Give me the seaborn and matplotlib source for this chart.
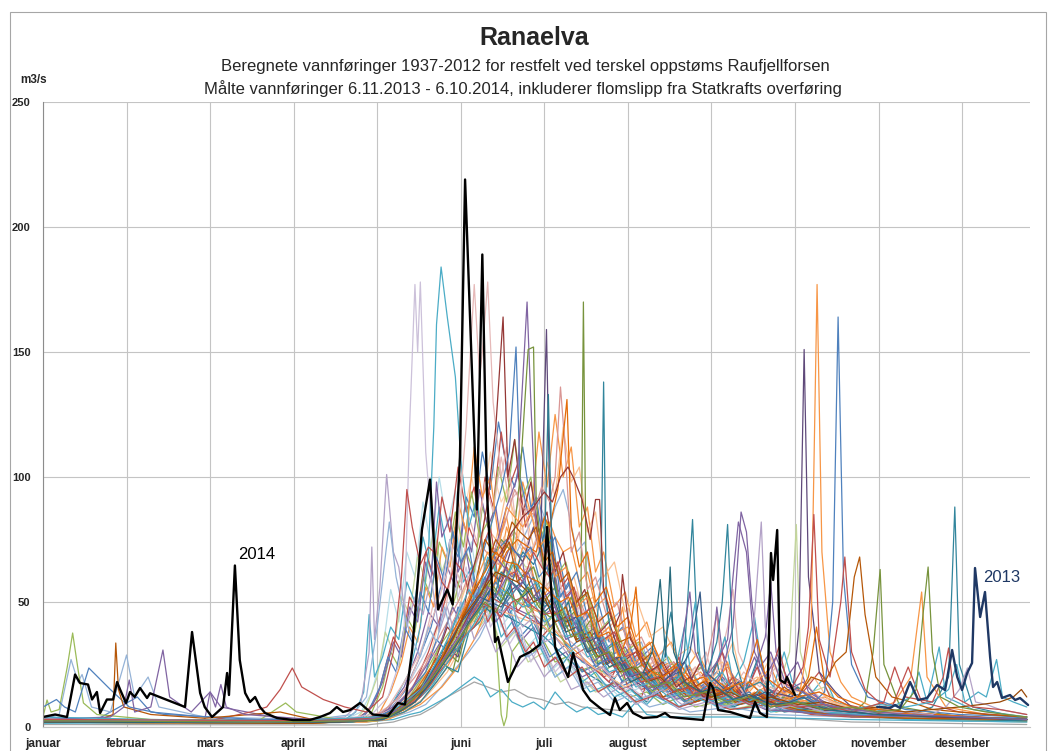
import matplotlib
matplotlib.use("Agg")
import matplotlib.pyplot as plt
from matplotlib.patches import Rectangle
import seaborn as sns

sns.set_style("white")
plt.rcParams['font.family'] = ['Liberation Sans Narrow', 'Liberation Sans', 'DejaVu Sans']

# ---------------- data ----------------
MONTHS = ["januar", "februar", "mars", "april", "mai", "juni", "juli",
          "august", "september", "oktober", "november", "desember"]
MONTH_TICKS = [0, 31, 62, 93, 124, 155, 186, 217, 248, 279, 310, 341]
Y_TICKS = [0, 50, 100, 150, 200, 250]

# measured 2014 (6.11.2013 - 6.10.2014), day of year -> m3/s
d2014 = [0, 4.5, 8.9, 11.9, 13.7, 16.7, 18.2, 20, 21.2, 23.7, 26, 27.5, 28.6, 30.8, 32.3,
         34, 36, 38.6, 39.7, 52.7, 55.3, 58.3, 60, 62.7, 66.8, 68.3, 69, 71.2, 73, 75,
         76.8, 78.7, 80.5, 82.4, 86.8, 92.8, 99, 102.8, 106.5, 109, 111.3, 114, 117.6, 122.4, 128,
         131.7, 134.3, 137, 140.6, 143.6, 146.6, 150, 152, 154.7, 156.6, 161, 163, 164.7, 167.7, 168.8,
         172.5, 177, 180.7, 184.4, 187, 190, 194.8, 196.7, 200.4, 203, 206.7, 210.4, 212.2, 214, 216.7,
         218.9, 222.6, 227.8, 230.8, 232.7, 236.4, 244.9, 247.5, 248.6, 250.5, 255, 258.6, 262.3, 264.2, 266,
         268.6, 270.1, 270.9, 272.4, 273.5, 275.3, 276, 279]
v2014 = [4, 5, 4, 21, 17.6, 17, 11, 14, 5.6, 11, 11, 18, 15, 9.6, 14,
         12, 15.6, 11.6, 13.5, 8, 38, 13.6, 8, 4, 8, 21.6, 12.8, 64.6, 26.8, 13.6,
         10, 12, 8, 5.6, 3.6, 2.8, 2.8, 4, 5.6, 8, 6, 6.8, 9.6, 5, 4.4,
         9.6, 9, 31, 79, 99, 47, 55, 49, 108, 219, 87, 189, 94, 34, 36,
         18, 28, 30, 33, 80, 32, 20, 29.6, 14.8, 10.8, 7.6, 4.8, 11.6, 6.8, 9.6,
         5.6, 3.6, 4, 5.6, 4, 3.6, 2.8, 17.6, 15.6, 6.8, 6, 4.8, 3.6, 10, 5.6,
         4, 69.6, 58.8, 78.8, 18.8, 17.6, 20, 12.8]

d2013 = [309.5, 310.6, 314.3, 316.1, 318, 321.7, 324.7, 328, 331.7, 334.7, 337.3, 339.2, 341,
         342.9, 344.7, 345.8, 347.7, 349.5, 351.4, 352.5, 354, 355.8, 358.8, 360.7, 362.5, 365.5]
v2013 = [8, 8, 7.6, 8.8, 7.6, 18, 10.8, 11.6, 16.8, 14.8, 30.8, 20, 14.8,
         21.6, 25.6, 63.6, 44, 54, 28, 16, 18, 11.6, 12.8, 10.8, 11.6, 8.8]

# computed series 1937-2012 (selection), (day, m3/s)
s01 = [(0,3),(30,2.5),(60,2),(90,2),(110,3),(122,5),(128,12),(132,25),(134,40),(136,120),(138,177),(139,150),(140,178),(142,110),(145,70),(148,55),(151,75),(154,52),(157,64),(160,45),(163,58),(166,40),(170,48),(173,33),(177,40),(181,26),(185,34),(190,22),(195,28),(200,16),(206,20),(212,12),(218,16),(225,10),(232,22),(236,11),(245,8),(252,18),(258,9),(266,14),(275,7),(290,5),(320,3.5),(365,2.5)]
s02 = [(0,2),(40,2),(80,1.5),(110,2),(124,4),(130,10),(136,22),(140,40),(143,70),(145,120),(146,161),(147.7,184),(150,164),(153,140),(155,107),(158,80),(161,92),(164,62),(167,70),(170,50),(173,58),(176,40),(180,46),(184,32),(188,38),(192,24),(196,30),(200,18),(205,22),(212,12),(218,15),(224,9),(230,16),(236,8),(244,12),(252,7),(262,11),(270,6),(285,8),(300,5),(320,3),(340,2.5),(365,2)]
s03 = [(0,3),(50,2.5),(100,2),(120,3),(128,8),(134,18),(140,30),(145,45),(150,62),(154,80),(157,120),(160,177),(162,140),(163,150),(165,178),(167,130),(170,100),(172,112),(175,85),(178,95),(181,70),(184,78),(187,55),(191,62),(195,42),(199,48),(203,32),(208,36),(213,24),(218,28),(224,18),(230,22),(236,14),(242,24),(248,12),(256,18),(264,10),(272,14),(282,8),(300,5),(330,4),(365,3)]
s04 = [(0,2.5),(40,2),(90,1.5),(120,2.5),(132,6),(140,15),(146,28),(150,40),(154,35),(158,58),(162,72),(165,90),(168,120),(170.7,164),(172.5,100),(175,115),(178,85),(181,98),(184,78),(187,86),(190,62),(193,70),(197,48),(201,55),(205,36),(210,42),(215,26),(220,30),(226,18),(232,22),(238,14),(244,26),(248,12),(256,16),(262,10),(270,13),(280,8),(295,6),(320,4),(365,3)]
s05 = [(0,4),(20,3),(35,12),(40,6),(70,3),(100,2.5),(122,3),(130,7),(136,14),(142,22),(146,35),(150,30),(154,48),(158,42),(162,65),(166,80),(170,95),(173,110),(175.5,152),(177,100),(180,85),(183,92),(186,70),(189,76),(192,52),(195,58),(199,40),(203,45),(207,30),(212,34),(217,22),(222,26),(228,16),(235,20),(241,12),(248,18),(254,10),(262,14),(270,8),(280,10),(300,5),(330,4),(365,3.5)]
s06 = [(0,3),(30,2),(60,3),(62,14),(66,8),(90,3),(120,3),(130,8),(136,14),(142,24),(148,35),(152,48),(156,40),(160,58),(164,52),(168,72),(172,88),(176,100),(179.6,170),(181,130),(183,80),(186,62),(189,68),(192,48),(196,54),(200,36),(205,40),(210,28),(216,32),(222,20),(228,24),(234,14),(240,18),(246,12),(252,22),(256,40),(259,86),(261,78),(263,50),(266,24),(270,30),(275,14),(282,18),(290,9),(300,6),(330,4),(365,3)]
s07 = [(0,2),(50,2),(100,2),(125,3),(132,6),(138,10),(144,18),(148,26),(152,22),(156,40),(160,48),(164,55),(167,68),(170,75),(174,70),(177,100),(180,151),(182,152),(183,90),(186,60),(189,66),(192,45),(196,52),(200,38),(204,44),(208,30),(213,34),(218,22),(224,26),(230,16),(236,20),(242,12),(250,16),(258,10),(266,14),(274,8),(285,10),(300,4),(365,2.5)]
s08 = [(0,2),(60,1.8),(110,2),(126,4),(134,9),(140,14),(145,22),(150,32),(154,28),(158,46),(162,52),(166,62),(170,58),(174,72),(178,66),(182,80),(184.5,70),(186.8,159),(188,90),(190,55),(194,44),(197,50),(201,34),(205,38),(209,25),(214,28),(220,18),(226,14),(232,20),(238,26),(242,16),(248,12),(256,18),(262,10),(270,14),(278,12),(280.5,40),(282.4,151),(284,60),(288,22),(294,14),(300,8),(330,5),(365,3)]
s09 = [(0,3),(40,2.5),(100,2),(125,3),(134,7),(140,12),(146,22),(150,30),(154,26),(158,42),(162,48),(166,58),(170,52),(174,66),(178,60),(182,64),(186,50),(190,56),(194,42),(197,46),(199.5,40),(200.5,170),(201.5,60),(204,35),(208,30),(212,24),(216,28),(222,18),(228,22),(234,14),(240,18),(248,10),(256,14),(265,8),(275,12),(290,6),(300,5),(305,10),(308,30),(310.6,63),(312,25),(318,8),(340,4),(365,3)]
s10 = [(0,2),(50,1.5),(110,1.8),(126,3),(134,6),(140,10),(146,18),(150,24),(154,22),(158,38),(162,42),(166,50),(170,46),(174,58),(178,54),(182,60),(186,48),(190,52),(194,40),(198,42),(202,30),(205,36),(207,60),(208,138),(209,50),(212,28),(216,24),(220,18),(225,22),(230,14),(235,18),(238,30),(241,83),(243,30),(246,20),(250,34),(252,50),(254,81),(256,30),(260,15),(266,18),(275,10),(285,12),(295,6),(310,5),(320,4),(330,8),(336,20),(338.3,88),(340,25),(345,8),(365,3)]
s11 = [(0,3),(30,2.5),(80,2),(118,3),(126,6),(132,12),(138,20),(144,30),(148,26),(152,42),(156,50),(160,46),(164,65),(168,72),(171,80),(175,95),(178,88),(182,85),(185,96),(188,90),(190,100),(192,136),(193.5,115),(196,70),(199,78),(202,55),(205,60),(209,45),(213,50),(217,32),(222,36),(228,22),(234,26),(240,15),(248,20),(256,10),(265,14),(272,8),(282,12),(295,6),(310,4),(365,3)]
s12 = [(0,2.5),(40,2),(100,1.5),(124,3),(132,8),(138,14),(144,24),(148,30),(152,28),(156,44),(160,50),(164,46),(168,60),(172,70),(176,75),(180,72),(183,70),(186,84),(188,80),(191,95),(194.4,131),(196,80),(199,64),(202,70),(205,50),(209,56),(213,40),(217,44),(221,30),(226,34),(231,22),(236,26),(242,16),(248,20),(256,14),(262,18),(270,10),(280,12),(284,20),(287,40),(290,18),(295,12),(310,6),(340,4),(365,3)]
s13 = [(0,2),(60,1.5),(115,2),(126,4),(132,8),(138,14),(142,18),(146,26),(150,34),(154,30),(158,44),(162,50),(166,46),(170,62),(174,58),(178,70),(182,65),(185,72),(186.3,80),(187.5,133),(189,60),(192,45),(195,50),(198,35),(202,38),(206,25),(210,28),(215,18),(220,22),(226,12),(232,16),(240,9),(248,14),(256,8),(266,12),(275,6),(290,8),(300,4),(365,2.5)]
s14 = [(0,2.5),(40,2),(90,2),(112,4),(118,10),(121,30),(122,72),(123,35),(125,56),(127.5,101),(130,70),(132,64),(135,40),(138,52),(141,45),(144,60),(147,38),(150,48),(153,36),(156,50),(160,35),(164,42),(168,30),(172,36),(176,24),(181,30),(186,20),(191,26),(196,15),(202,18),(208,12),(214,16),(220,9),(228,14),(236,7),(246,10),(254,8),(260,14),(263,30),(266.5,82),(268,40),(272,12),(280,9),(290,6),(320,4),(365,3)]
s15 = [(0,3),(6,5),(10.4,27),(13,18),(14.5,21),(18,8),(25,6),(31,28.8),(34,12),(39,20),(43,8),(60,4),(100,3),(115,5),(120,12),(124,40),(128.5,82),(131,60),(134,45),(137,35),(140,28),(143,40),(146,34),(149,48),(152,35),(155,50),(158,44),(161,55),(164,42),(168,48),(172,35),(176,40),(180,28),(185,32),(190,20),(195,24),(200,15),(206,18),(212,10),(218,13),(225,8),(232,10),(240,6),(255,8),(270,5),(300,4),(365,3)]
s16 = [(0,2.5),(60,2),(77,6),(83,8),(88,15),(92.5,23.6),(96,16),(104,11),(112,8),(120,6),(126,12),(130,30),(133,60),(135,95),(137,80),(140,65),(143,72),(145,70),(148,58),(150,55),(153,66),(156,62),(159,50),(162,54),(165,42),(168,48),(172,36),(175,40),(179,30),(182,34),(186,24),(190,28),(195,20),(200,24),(206,14),(212,18),(220,10),(228,13),(236,8),(245,11),(255,7),(270,9),(285,5),(300,4),(365,3)]
s17 = [(0,4),(1.5,10.8),(3,6),(6,7),(9,24),(11,37.6),(13,23),(15,9.6),(20,5),(40,3),(80,2.5),(90,9.6),(94,6),(110,3),(124,4),(130,6),(136,10),(140,14),(144,22),(148,28),(152,34),(156,42),(160,48),(164,58),(168,54),(172,50),(176,56),(180,45),(184,50),(188,38),(191,44),(194,48),(198,36),(202,40),(206,26),(211,30),(216,18),(221,22),(226,14),(232,18),(238,10),(246,13),(254,9),(262,12),(270,7),(290,5),(320,4),(365,3)]
s18 = [(0,8),(5,11),(8,8),(12,6),(17,23.6),(25,15),(28,12),(32,8),(45,5),(80,3),(110,3),(124,4),(132,8),(138,12),(142,16),(146,22),(150,32),(154,40),(158,48),(162,55),(165,62),(168,70),(172,75),(175,70),(178,68),(181,72),(184,60),(187,64),(190,50),(193,54),(196,40),(200,44),(204,30),(208,34),(212,24),(216,26),(220,18),(226,20),(232,14),(238,16),(244,11),(250,13),(256,9),(264,11),(270,7),(296,5),(330,4),(365,3.5)]
s19 = [(0,2),(20,2.5),(26,5),(27,33.6),(28,15),(30,8),(40,5),(60,3.5),(88,6),(100,3),(120,3),(128,5),(134,9),(140,16),(144,20),(148,28),(152,35),(156,44),(160,55),(164,75),(167,70),(170,68),(173,74),(176,58),(179,62),(182,52),(185,56),(190,45),(194,48),(198,35),(203,38),(208,25),(213,28),(218,18),(224,22),(230,12),(236,15),(242,10),(248,12),(252,14),(258,9),(266,11),(280,7),(292,5),(320,3.5),(365,3)]
s20 = [(0,3),(25,4),(30,8),(32,18.8),(34,6),(40,8),(44.5,30.8),(47,12),(55,6),(62,14),(64,8),(66,17),(68,8),(75,5),(100,3),(120,3.5),(128,5),(134,8),(138,10),(143,18),(148,25),(152,32),(156,40),(159,46),(162,55),(165,60),(168,68),(171,64),(174,60),(178,66),(180,50),(184,54),(186,45),(190,48),(194,35),(199,38),(204,26),(209,30),(214,20),(220,24),(224,15),(230,18),(235,11),(242,14),(250,9),(258,12),(268,7),(290,5),(330,4),(365,3)]
s21 = [(0,2),(50,1.5),(110,2),(124,3),(130,6),(136,10),(140,14),(145,22),(150,30),(154,42),(158,52),(162,62),(165,70),(168,66),(172,88),(175,84),(178,80),(181,86),(184,72),(187,76),(190,60),(194,64),(198,48),(202,52),(206,36),(210,40),(214,26),(218,30),(222,18),(226,22),(230,14),(236,18),(240,12),(246,20),(250,16),(254,26),(258,10),(264,14),(270,8),(276,12),(280,9),(285,40),(287.2,177),(289,70),(292,30),(296,18),(300,12),(310,7),(316,10),(322,20),(326,54),(328,20),(335,8),(350,5),(365,4)]
s22 = [(0,3),(60,2.5),(110,2),(126,4),(132,7),(138,12),(142,16),(147,24),(152,30),(156,38),(160,45),(164,52),(168,58),(172,50),(176,56),(180,48),(184,52),(188,40),(192,44),(196,32),(200,36),(205,24),(210,28),(215,18),(220,20),(226,13),(232,16),(238,10),(244,14),(250,9),(258,12),(264,8),(270,12),(276,9),(282,14),(286,10),(290,14),(293,50),(295,164),(297,60),(300,25),(303,18),(306,12),(320,7),(340,5),(365,4)]
s23 = [(0,2.5),(60,2),(110,2),(126,3),(132,6),(138,10),(142,14),(147,22),(152,28),(156,36),(160,40),(164,48),(168,52),(171,60),(175,62),(178,58),(182,70),(185,64),(188,60),(191,66),(194,52),(197,56),(200,45),(204,48),(208,35),(212,38),(216,28),(220,30),(224,22),(228,24),(232,16),(237,20),(242,12),(247,16),(252,14),(256,20),(260,10),(265,14),(270,12),(274,18),(278,16),(282,24),(284,40),(286,85),(288,35),(292,20),(296,50),(297.5,68),(300,30),(305,15),(310,10),(315,8),(321,24),(326,10),(340,6),(365,4)]
s24 = [(0,2),(80,1.5),(115,2),(126,4),(132,6),(138,10),(145,18),(150,26),(155,35),(159,42),(163,50),(166,46),(170,62),(173,58),(176,70),(179,64),(182,64),(186,55),(189,60),(192,48),(195,45),(199,50),(203,35),(207,38),(212,26),(216,30),(222,18),(227,22),(232,14),(237,18),(242,12),(248,16),(252,10),(258,14),(262,9),(268,14),(270,12),(274,20),(277,30),(279.5,81),(281,30),(285,14),(290,16),(295,9),(310,6),(330,4),(365,3)]
s25 = [(0,3),(60,2.5),(110,2),(126,4),(132,8),(138,14),(144,20),(149,30),(154,40),(158,50),(162,58),(165,66),(168,75),(171,70),(174,82),(177,78),(180,75),(183,80),(186,66),(189,70),(192,58),(195,62),(198,50),(202,54),(206,42),(210,46),(214,34),(218,36),(222,26),(226,30),(230,20),(235,24),(240,15),(245,18),(250,13),(255,16),(260,11),(265,14),(270,10),(275,16),(280,12),(285,20),(290,18),(294,26),(298,30),(301,60),(303,68),(305,45),(309,20),(315,12),(322,10),(330,7),(350,5),(365,4)]
s26 = [(0,2),(50,1.8),(110,2),(124,4),(128,5),(134,10),(140,15),(145,24),(150,35),(154,45),(158,55),(161,50),(165,68),(168,62),(172,60),(175,66),(180,55),(183,58),(188,48),(191,52),(196,40),(199,44),(204,32),(208,36),(212,25),(216,28),(220,18),(225,20),(230,15),(234,18),(238,22),(242,50),(244,25),(248,18),(252,22),(256,14),(262,10),(266,15),(275,8),(282,12),(290,6),(305,5),(315,8),(322,12),(325,22),(328,10),(332.5,32),(335,12),(345,7),(365,4)]
s27 = [(0,2.5),(60,2),(110,2),(124,3),(128,4),(134,8),(140,12),(145,20),(150,28),(154,36),(158,45),(162,52),(166,62),(170,70),(174,78),(178,84),(182,88),(186,94),(189,90),(192,100),(194.8,104),(196.7,100),(200,91),(203,75),(205,91),(206.5,91),(208,55),(212,40),(214,45),(215,61),(218,35),(222,28),(225,22),(230,26),(235,16),(240,20),(245,12),(250,15),(258,10),(265,13),(272,9),(285,8),(300,6),(330,4),(365,3)]
s28 = [(0,2),(90,1.5),(120,2),(128,4),(134,8),(139,14),(144,22),(148,30),(152,40),(155,50),(158,60),(161,55),(164,85),(166,78),(168,75),(170,84),(172,95),(174,88),(176,80),(179,86),(182,72),(185,78),(188,62),(191,66),(194,55),(197,60),(200,48),(204,52),(208,38),(212,42),(216,30),(220,34),(224,24),(228,27),(232,18),(237,22),(242,14),(247,18),(252,12),(257,16),(262,15),(266,20),(270,10),(276,14),(285,8),(300,5),(330,4),(365,3)]
s29 = [(0,2.5),(80,2),(112,3),(118,6),(122,14),(126,30),(129,55),(132,42),(135,70),(138,60),(141,90),(144,72),(147,100),(150,80),(153,95),(156,66),(159,74),(162,52),(166,60),(170,40),(174,46),(178,30),(183,36),(188,22),(194,28),(200,16),(206,20),(214,12),(222,16),(230,9),(240,14),(250,8),(262,12),(275,7),(290,6),(310,4),(365,3)]
s30 = [(0,2),(100,1.5),(125,3),(130,6),(136,12),(140,20),(144,30),(147,42),(150,55),(153,68),(155,80),(157,90),(159,100),(162,85),(164,96),(166,110),(168,98),(170,90),(173,96),(175,75),(178,80),(180,65),(183,70),(186,55),(189,60),(193,45),(196,50),(200,36),(204,40),(208,28),(212,32),(216,22),(221,26),(226,16),(232,20),(238,12),(245,15),(252,10),(260,13),(270,8),(282,10),(295,5),(330,3),(365,2)]
s31 = [(0,3),(80,2),(120,2.5),(130,4),(136,6),(142,9),(147,15),(152,22),(158,30),(162,36),(166,45),(169,52),(172,60),(175,68),(178,75),(181,82),(184,90),(186,84),(188,80),(190,88),(193,95),(195,86),(198,70),(201,74),(204,55),(207,60),(210,42),(214,46),(218,30),(222,34),(226,22),(231,26),(235,16),(240,20),(245,12),(250,16),(256,10),(262,13),(270,8),(280,10),(290,6),(320,4),(365,3)]
s32 = [(0,2),(100,1.5),(116,3),(120,8),(124,20),(127,38),(130,30),(133,52),(136,45),(139,68),(142,58),(145,80),(148,62),(151,72),(154,50),(158,58),(162,40),(166,46),(170,32),(175,38),(180,26),(186,30),(192,18),(198,22),(205,14),(212,17),(220,10),(228,13),(236,8),(246,12),(256,7),(268,10),(280,6),(305,4),(365,3)]
s33 = [(0,3),(70,2),(118,3),(126,5),(132,10),(137,16),(142,25),(146,34),(150,42),(154,50),(157,58),(160,64),(163,72),(166,68),(169,65),(172,74),(175,78),(178,72),(181,70),(184,76),(188,60),(191,64),(195,50),(198,54),(203,40),(207,44),(212,30),(216,34),(222,24),(226,28),(230,20),(234,24),(238,18),(242,22),(246,25),(248,35),(250,45),(252,20),(255,18),(258,14),(262,18),(268,12),(273,16),(278,10),(284,13),(290,8),(310,6),(340,4),(365,3)]
s34 = [(0,2.5),(90,2),(122,3),(128,5),(132,7),(136,10),(141,16),(146,25),(150,32),(154,40),(158,46),(162,52),(166,50),(170,48),(174,55),(178,58),(182,52),(186,50),(190,46),(194,42),(198,44),(202,34),(206,36),(210,26),(214,28),(218,20),(223,22),(228,16),(232,20),(236,22),(240,30),(243.8,54),(246,22),(250,18),(254,14),(258,18),(262,11),(268,14),(275,9),(282,12),(290,7),(310,5),(340,4),(365,3)]
s35 = [(0,2),(80,1.8),(120,2.5),(126,4),(130,5),(134,7),(139,12),(144,20),(148,28),(152,38),(156,46),(160,55),(164,62),(168,70),(172,66),(176,65),(180,60),(184,58),(188,54),(192,50),(195,52),(198,44),(202,46),(206,36),(210,38),(214,28),(218,40),(220,56),(222,25),(226,22),(230,20),(235,24),(240,18),(245,20),(250,14),(255,16),(260,18),(263,28),(265,35),(268,20),(273,16),(280,12),(288,14),(300,8),(320,6),(345,4),(365,3)]
s36 = [(0,4),(40,3),(90,2.5),(124,4),(130,5),(136,9),(140,12),(144,16),(149,24),(154,32),(158,38),(162,45),(166,50),(170,55),(174,52),(178,48),(182,50),(186,42),(190,45),(194,36),(198,38),(202,28),(206,30),(210,22),(215,24),(220,16),(226,18),(232,12),(238,14),(246,10),(254,12),(262,9),(270,11),(280,8),(290,9),(300,7),(310,9),(320,8),(330,10),(336,15),(339,25),(342,10),(347,14),(350,12),(353.8,27),(356,12),(360,10),(365,8)]
s37 = [(0,3),(100,2),(124,3),(130,5),(136,9),(140,12),(145,20),(150,28),(154,36),(158,42),(162,48),(166,50),(170,46),(174,48),(178,40),(182,44),(186,34),(190,36),(194,30),(198,32),(203,22),(208,24),(213,16),(218,20),(224,12),(230,15),(237,9),(244,12),(252,8),(260,10),(270,7),(280,9),(290,6),(300,7),(310,5),(320,6),(330,5),(335,8),(340,15),(343,23.6),(346,10),(350,9),(355,7),(365,5)]
s38 = [(0,2),(100,1.5),(124,3),(128,4),(134,8),(138,12),(142,15),(147,25),(152,35),(156,44),(160,50),(164,56),(168,62),(172,60),(176,58),(180,54),(182,50),(186,52),(190,42),(194,44),(198,34),(202,36),(206,28),(210,30),(214,22),(219,24),(224,18),(229,20),(234,14),(240,16),(248,12),(255,14),(262,10),(270,12),(280,9),(290,10),(300,7),(310,8),(320,6),(330,7),(340,8),(348,9),(355,10),(360,12),(363,15),(365,12)]
s39 = [(0,3),(100,2.5),(124,3.5),(130,5),(136,9),(140,12),(144,18),(149,26),(154,34),(158,42),(162,50),(166,48),(170,44),(174,50),(178,52),(182,48),(186,45),(190,46),(194,38),(198,40),(202,30),(207,32),(212,24),(216,26),(222,18),(228,20),(234,14),(240,16),(248,11),(255,13),(262,9),(270,11),(280,8),(290,9),(300,6),(306,8),(312,10),(316,24),(320,12),(325,11),(330,10),(334,20),(336,31.6),(338,12),(345,8),(355,7),(365,5)]
s40 = [(0,1),(120,0.8),(130,2),(136,4),(140,5),(145,8),(150,12),(155,15),(160,18),(165,16),(170,14),(175,15),(180,12),(185,11),(190,9),(195,10),(200,8),(210,7),(220,6),(230,6),(240,5),(255,5),(270,4),(300,2),(365,1)]
s41 = [(0,1.5),(120,2),(130,3),(136,5),(140,6),(145,9),(150,12),(155,16),(160,20),(163,18),(166,12),(170,15),(174,10),(178,8),(182,10),(186,7),(190,14),(194,9),(198,6),(202,8),(206,5),(210,6),(215,4),(220,10),(224,5),(230,4),(245,4),(260,4),(300,3),(365,2)]
s42 = [(0,2.5),(60,2),(100,2),(124,3),(130,6),(136,12),(142,22),(147,32),(152,40),(156,48),(160,42),(164,52),(168,38),(170,5),(171,0.5),(172,4),(174,30),(178,36),(182,30),(186,34),(190,26),(194,28),(198,22),(203,24),(208,16),(213,18),(218,12),(224,14),(230,9),(236,12),(242,8),(250,10),(258,7),(264,9),(272,6),(280,8),(290,5),(310,4),(330,3),(365,2.5)]
s43 = [(0,3),(60,2.5),(110,2.5),(124,4),(130,8),(134,14),(138,22),(142,30),(146,40),(150,48),(153,55),(156,62),(159,58),(162,70),(165,66),(168,75),(171,70),(174,78),(177,72),(180,68),(183,74),(186,60),(189,64),(192,52),(196,55),(200,42),(204,45),(208,34),(212,36),(216,26),(221,28),(226,20),(232,22),(238,15),(245,17),(252,12),(260,14),(268,9),(278,11),(290,7),(310,5),(340,4),(365,3)]
s44 = [(0,2),(80,1.8),(120,2),(128,3),(134,6),(140,10),(146,18),(150,24),(155,34),(160,44),(164,50),(168,58),(172,64),(175,60),(178,72),(181,68),(184,78),(186,74),(188,82),(190,76),(193,70),(196,72),(199,58),(202,62),(205,48),(209,52),(213,38),(217,40),(221,30),(225,34),(229,24),(233,26),(238,18),(244,22),(250,14),(256,18),(262,12),(268,16),(275,10),(285,12),(295,7),(320,5),(365,3)]
s45 = [(0,2),(60,1.8),(110,2),(126,3),(132,6),(138,10),(144,18),(149,26),(154,34),(158,42),(162,48),(166,55),(170,50),(174,58),(178,52),(182,56),(186,46),(190,50),(194,38),(198,40),(202,30),(206,32),(210,24),(214,26),(218,18),(222,20),(226,30),(229,59),(231,28),(232.7,64),(234,30),(238,18),(244,14),(250,16),(256,11),(262,13),(270,9),(280,10),(290,7),(310,5),(340,4),(365,3)]
s46 = [(0,2.5),(80,2),(118,2.5),(126,4),(132,7),(138,12),(144,20),(149,28),(154,36),(158,44),(162,50),(165,56),(168,52),(172,60),(176,55),(180,62),(184,50),(188,54),(192,42),(196,45),(200,34),(204,36),(208,26),(212,28),(217,20),(222,22),(227,15),(232,18),(236,24),(238,40),(240,54),(242,30),(246,20),(250,26),(254,35),(256,60),(258,82),(261,70),(264,30),(268,20),(272,28),(276,16),(282,14),(290,9),(300,7),(320,5),(365,3)]
s47 = [(0,3),(60,2.5),(118,3),(126,5),(132,9),(138,15),(144,24),(149,32),(154,40),(158,48),(162,55),(166,62),(169,58),(172,66),(176,60),(180,64),(184,54),(188,58),(192,46),(196,50),(200,38),(204,40),(208,30),(212,33),(216,24),(220,27),(224,20),(228,23),(233,16),(238,19),(244,14),(250,22),(254,40),(256,55),(258,30),(262,20),(268,16),(274,20),(280,12),(288,14),(296,8),(310,6),(340,4),(365,3)]
s48 = [(0,2.5),(80,2),(120,2.5),(128,4),(134,8),(140,14),(146,22),(151,30),(156,38),(160,44),(164,50),(168,46),(172,54),(176,50),(180,56),(184,48),(188,44),(192,46),(196,36),(200,38),(205,28),(210,30),(215,22),(220,24),(226,16),(232,18),(238,12),(246,14),(254,10),(262,12),(270,8),(280,10),(290,7),(300,8),(310,6),(318,7),(324,15),(326.5,45),(328.4,64),(330,30),(333,12),(340,8),(350,6),(365,4)]
s49 = [(0,2),(90,1.5),(124,2.5),(132,5),(140,9),(148,16),(154,24),(160,35),(165,48),(169,62),(172,80),(175,70),(178,98),(181,85),(184,118),(187,96),(190,125),(193,100),(196,112),(199,80),(202,88),(205,62),(208,70),(212,48),(216,54),(220,36),(224,42),(228,28),(233,34),(238,22),(243,30),(248,18),(254,24),(260,14),(266,20),(272,12),(280,16),(290,9),(305,6),(330,4),(365,3)]
s50 = [(0,3),(80,2.5),(120,3),(128,6),(134,14),(139,26),(144,40),(148,58),(151,75),(154,68),(157,92),(160,84),(163,110),(166,95),(169,122),(172,104),(175,96),(178,112),(181,88),(184,92),(187,70),(190,76),(194,55),(198,62),(202,44),(206,50),(210,34),(215,40),(220,26),(226,32),(232,20),(238,26),(244,16),(250,22),(256,13),(262,18),(270,10),(280,13),(292,8),(310,5),(340,4),(365,3)]
s51 = [(0,2.5),(90,2),(122,3),(130,7),(137,15),(143,30),(148,46),(152,62),(155,55),(158,80),(161,72),(164,100),(167,88),(170,118),(173,96),(176,105),(179,80),(182,88),(185,66),(188,72),(191,54),(195,60),(199,42),(203,48),(207,34),(212,38),(217,26),(222,30),(228,20),(234,26),(240,16),(246,22),(252,13),(258,18),(265,11),(272,15),(280,9),(295,6),(320,4),(365,3)]
s52 = [(0,2),(90,1.8),(124,2.5),(132,6),(138,12),(144,24),(149,38),(153,52),(157,70),(160,62),(163,88),(166,78),(169,104),(172,90),(175,115),(178,92),(181,100),(184,74),(187,82),(190,60),(194,66),(198,48),(202,54),(206,38),(211,44),(216,30),(221,34),(226,22),(232,28),(238,18),(244,24),(250,14),(256,20),(262,12),(270,16),(280,9),(295,6),(320,4),(365,3)]
s53 = [(0,3),(80,2.5),(120,3),(128,7),(134,16),(139,30),(143,46),(147,40),(150,64),(153,56),(156,82),(159,70),(162,95),(165,80),(168,88),(171,66),(174,74),(177,56),(181,64),(185,46),(189,52),(193,38),(197,44),(202,30),(207,36),(212,24),(217,30),(222,20),(228,26),(234,16),(240,22),(246,14),(252,20),(258,12),(264,28),(268,16),(275,12),(285,9),(300,6),(330,4),(365,3)]
s54 = [(0,2),(100,1.5),(126,3),(134,6),(142,12),(150,22),(156,34),(162,48),(167,60),(171,76),(175,68),(179,90),(183,80),(187,106),(190,92),(193,120),(196,98),(199,104),(202,78),(205,86),(208,60),(212,66),(216,46),(220,52),(225,36),(230,40),(235,28),(240,32),(246,22),(252,26),(258,16),(265,20),(272,12),(280,15),(290,9),(310,6),(340,4),(365,3)]
s55 = [(0,3),(90,2.5),(122,3),(130,8),(136,18),(141,32),(145,50),(149,44),(152,66),(155,58),(158,84),(161,74),(164,98),(167,86),(170,108),(173,90),(176,94),(179,72),(182,80),(186,60),(190,66),(194,48),(198,54),(202,40),(207,44),(212,30),(218,36),(224,24),(230,30),(236,18),(242,24),(248,14),(255,20),(262,12),(270,16),(280,9),(295,6),(320,4),(365,3)]
s56 = [(0,2),(100,1.8),(126,3),(134,8),(142,18),(150,30),(158,42),(165,50),(172,44),(178,52),(185,40),(192,36),(200,26),(208,22),(214,16),(219,28),(222,18),(227,14),(231,30),(234,20),(238,40),(240,24),(245,14),(249,22),(253,36),(256,18),(260,26),(264,44),(267,22),(271,16),(275,30),(278,18),(284,12),(290,20),(294,10),(300,8),(320,5),(365,3)]
s57 = [(0,2.5),(100,2),(126,3),(134,8),(142,18),(150,32),(158,44),(166,56),(174,48),(182,44),(190,36),(198,28),(206,22),(212,16),(218,20),(222,30),(225,18),(230,14),(236,22),(240,16),(244,12),(248,26),(250,48),(252,30),(256,20),(262,16),(268,36),(270,58),(272,30),(276,20),(280,26),(284,14),(290,10),(300,7),(320,5),(365,3)]
s58 = [(0,2),(100,1.5),(126,3),(136,9),(144,20),(152,34),(160,46),(168,58),(176,50),(184,46),(192,36),(200,28),(206,22),(212,30),(215,48),(218,26),(222,20),(226,32),(228,22),(234,16),(240,24),(244,14),(250,12),(256,20),(262,14),(270,24),(274,14),(280,10),(290,12),(300,7),(320,5),(365,3)]
s59 = [(0,2),(90,2),(112,3),(116,6),(119,14),(121,45),(123,20),(126,28),(129,40),(132,35),(135,58),(138,50),(141,76),(144,62),(147,88),(150,70),(153,80),(156,58),(159,64),(162,45),(166,52),(170,36),(174,42),(179,28),(184,33),(190,20),(196,25),(203,14),(210,17),(218,10),(226,13),(235,8),(245,11),(258,7),(270,9),(290,5),(320,4),(365,3)]
s60 = [(0,2.5),(90,2),(116,3),(120,6),(124,12),(127,24),(130,36),(133,30),(136,52),(139,46),(142,70),(145,60),(148,92),(151,78),(154,104),(157,86),(160,96),(163,72),(166,80),(169,58),(172,64),(176,46),(180,52),(185,36),(190,42),(196,28),(202,32),(208,20),(215,24),(222,15),(230,18),(238,11),(248,14),(258,9),(270,11),(285,7),(300,5),(330,4),(365,3)]
s61 = [(0,2),(90,1.8),(118,2.5),(122,6),(126,16),(129,30),(132,24),(135,44),(138,38),(141,60),(144,52),(147,74),(150,66),(153,86),(156,72),(159,94),(162,76),(165,82),(168,60),(171,66),(175,48),(179,54),(184,38),(189,44),(195,30),(201,34),(207,22),(214,26),(221,16),(229,19),(237,12),(246,15),(256,9),(268,12),(280,7),(300,5),(330,4),(365,3)]
s62 = [(0,3),(90,2.5),(118,3),(122,8),(126,18),(130,34),(133,28),(136,48),(139,42),(142,66),(144,58),(146,98),(148,76),(151,84),(154,62),(157,70),(160,52),(164,58),(168,42),(172,48),(177,34),(182,40),(188,26),(194,30),(200,20),(207,24),(214,15),(222,18),(230,11),(240,14),(250,9),(262,12),(275,7),(295,5),(330,4),(365,3)]
s63 = [(0,2),(90,1.5),(120,2.5),(125,6),(129,14),(133,26),(136,40),(139,34),(142,56),(145,48),(148,72),(151,64),(154,90),(157,78),(160,112),(163,92),(166,100),(169,76),(172,84),(176,62),(180,70),(184,50),(188,56),(193,40),(198,46),(204,30),(210,36),(216,24),(223,28),(230,18),(238,22),(246,14),(255,17),(265,11),(275,13),(290,8),(310,5),(340,4),(365,3)]
s64 = [(0,3),(90,2.5),(117,3),(121,7),(125,16),(128,28),(131,22),(134,40),(137,34),(140,54),(143,46),(146,68),(149,58),(152,78),(155,66),(158,72),(161,54),(164,60),(168,44),(172,50),(177,36),(182,42),(188,28),(194,33),(200,22),(207,26),(214,16),(222,20),(230,12),(240,15),(250,9),(262,12),(275,7),(295,5),(330,4),(365,3)]
s65 = [(0,2.5),(100,2),(126,3),(136,9),(146,22),(156,40),(166,52),(176,46),(186,40),(196,30),(204,24),(210,18),(214,26),(217,16),(222,12),(226,22),(230,14),(236,28),(238,16),(244,12),(248,20),(252,30),(255,16),(260,12),(265,24),(268,14),(273,32),(276,18),(282,14),(288,22),(292,12),(298,9),(310,6),(330,4),(365,3)]
s66 = [(0,2),(100,1.5),(126,3),(136,8),(146,20),(156,36),(166,48),(176,42),(186,36),(196,26),(204,20),(210,16),(216,26),(219,14),(224,10),(228,18),(233,46),(236,20),(240,12),(246,16),(250,26),(253,14),(258,10),(262,18),(266,30),(269,14),(274,10),(280,16),(286,10),(292,8),(305,6),(330,4),(365,3)]
s67 = [(0,3),(100,2.5),(126,4),(136,10),(146,24),(156,40),(166,56),(176,50),(186,42),(196,34),(204,26),(212,20),(218,24),(222,16),(228,20),(234,14),(240,18),(246,30),(249,18),(255,14),(260,22),(266,16),(272,24),(276,14),(282,18),(288,12),(295,9),(310,6),(340,4),(365,3)]
s68 = [(0,2),(100,1.5),(126,3),(136,8),(146,20),(156,36),(166,48),(176,44),(186,40),(196,30),(204,24),(210,20),(216,16),(222,20),(228,14),(232,22),(238,16),(244,26),(247,18),(252,24),(256,34),(259,20),(264,16),(270,28),(274,18),(280,14),(286,20),(292,10),(300,8),(320,5),(365,3)]

SERIES = [s40, s41, s29, s30, s32, s43, s28, s31, s24, s33, s47, s44, s42,
          s49, s50, s51, s52, s53, s54, s55, s56, s57, s58,
          s59, s60, s61, s62, s63, s64, s65, s66, s67, s68,
          s01, s02, s03, s04, s05, s06, s07, s08, s09, s10, s11, s12, s13, s14, s15,
          s16, s17, s18, s19, s20, s21, s22, s23, s25, s26, s27, s34, s35, s36, s37,
          s38, s39, s45, s46, s48]
COLORS = ["#A5A5A5", "#4BACC6", "#B7DEE8", "#FCD5B5", "#C3D69B", "#B9CDE5", "#FAC090", "#95B3D7",
          "#C3D69B", "#D99694", "#E6B9B8", "#F79646", "#9BBB59",
          "#F79646", "#4F81BD", "#C0504D", "#9BBB59", "#8064A2", "#FAC090", "#E6B9B8", "#4BACC6",
          "#8064A2", "#F79646",
          "#4BACC6", "#C0504D", "#9BBB59", "#8064A2", "#F79646", "#4F81BD", "#C0504D", "#31859C",
          "#E6B9B8", "#FAC090",
          "#CCC1DA", "#4BACC6", "#E6B9B8", "#953735", "#4F81BD", "#8064A2", "#77933C", "#5F497A",
          "#77933C", "#31859C", "#D99694", "#E46C0A", "#2C7D91", "#B3A2C7", "#95B3D7",
          "#C0504D", "#9BBB59", "#4F81BD", "#B65708", "#8064A2", "#F79646", "#4F81BD", "#C0504D",
          "#B65708", "#4BACC6", "#953735", "#385D8A", "#E46C0A", "#4BACC6", "#B3A2C7",
          "#984807", "#C0504D", "#276A7C", "#8064A2", "#77933C"]

# ---------------- figure ----------------
W, H = 1049, 751
fig = plt.figure(figsize=(W / 100, H / 100), dpi=100)
ax = fig.add_axes([43 / W, 24 / H, 987 / W, 625 / H])

for s, c in zip(SERIES, COLORS):
    xs = [p[0] for p in s]
    ys = [p[1] for p in s]
    sns.lineplot(x=xs, y=ys, ax=ax, color=c, linewidth=0.9, estimator=None, sort=False, legend=False)

sns.lineplot(x=d2013, y=v2013, ax=ax, color="#1F3864", linewidth=1.7, estimator=None, sort=False, legend=False)
sns.lineplot(x=d2014, y=v2014, ax=ax, color="#000000", linewidth=1.7, estimator=None, sort=False, legend=False)

ax.set_xlim(0, 366.2)
ax.set_ylim(0, 250)
ax.set_xticks(MONTH_TICKS)
ax.set_xticklabels(MONTHS, fontsize=8.5, fontweight="bold")
ax.set_yticks(Y_TICKS)
ax.set_yticklabels([str(t) for t in Y_TICKS], fontsize=8, fontweight="bold")
ax.tick_params(axis="both", length=0)
ax.tick_params(axis="x", pad=8)
ax.tick_params(axis="y", pad=9)
ax.grid(True, axis="both", color="#c4c4c4", linewidth=0.8)
ax.set_axisbelow(True)
for side in ["top", "right"]:
    ax.spines[side].set_visible(False)
ax.spines["left"].set_color("#8c8c8c")
ax.spines["left"].set_linewidth(0.8)
ax.spines["bottom"].set_color("#c4c4c4")
ax.spines["bottom"].set_linewidth(0.8)
ax.set_xlabel("")
ax.set_ylabel("")

ax.text(72.4, 69, "2014", fontsize=12, color="#000000", va="center", ha="left",
        family=["Liberation Sans", "DejaVu Sans"])
ax.text(348.8, 59.6, "2013", fontsize=12, color="#1F3864", va="center", ha="left",
        family=["Liberation Sans", "DejaVu Sans"])

fig.text(534 / W, 1 - 38 / H, "Ranaelva", fontsize=18, fontweight="bold", ha="center", va="center")
fig.text(525 / W, 1 - 66 / H, "Beregnete vannføringer 1937-2012 for restfelt ved terskel oppstøms Raufjellforsen",
         fontsize=12, ha="center", va="center")
fig.text(523 / W, 1 - 89 / H, "Målte vannføringer 6.11.2013 - 6.10.2014, inkluderer flomslipp fra Statkrafts overføring",
         fontsize=12, ha="center", va="center")
fig.text(20 / W, 1 - 80 / H, "m3/s", fontsize=8.5, fontweight="bold", ha="left", va="center")

fig.patches.append(Rectangle((10 / W, -0.01), (1046 - 10) / W, (751 - 12) / H + 0.01,
                             transform=fig.transFigure, fill=False, edgecolor="#a6a6a6", linewidth=0.8))

fig.savefig("out.png", dpi=100)
